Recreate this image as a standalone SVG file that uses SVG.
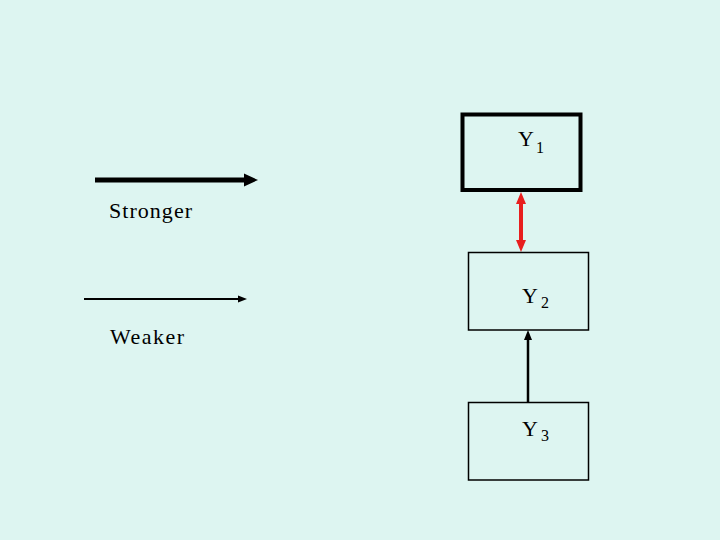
<svg xmlns="http://www.w3.org/2000/svg" width="720" height="540" viewBox="0 0 720 540">
<style>
text{font-family:"Liberation Serif","Times New Roman",serif;fill:#000}
.lbl{font-size:22px}
.sub{font-size:16px}
.box{fill:none;stroke:#000;stroke-width:1.5}
</style>
<rect width="720" height="540" fill="#DDF5F1"/>
<g id="legend">
<line x1="95" y1="180" x2="246" y2="180" stroke="#000" stroke-width="5"/>
<polygon points="258,180 244,173.5 244,186.5" fill="#000"/>
<text class="lbl" x="109" y="218" textLength="83" lengthAdjust="spacing">Stronger</text>
<line x1="84" y1="299" x2="240" y2="299" stroke="#000" stroke-width="2"/>
<polygon points="247,299 238,295.5 238,302.5" fill="#000"/>
<text class="lbl" x="110" y="344" textLength="74" lengthAdjust="spacing">Weaker</text>
</g>
<g id="connectors">
<line x1="521" y1="202" x2="521" y2="242" stroke="#E81E1E" stroke-width="4"/>
<polygon points="521,192 516,204 526,204" fill="#E81E1E"/>
<polygon points="521,252 516,240 526,240" fill="#E81E1E"/>
<line x1="528" y1="402" x2="528" y2="338" stroke="#000" stroke-width="2.5"/>
<polygon points="528,330 524,340 532,340" fill="#000"/>
</g>
<g id="Y1">
<rect x="462.5" y="114.5" width="118" height="75.5" fill="none" stroke="#000" stroke-width="4"/>
<text class="lbl" x="518" y="146">Y<tspan class="sub" dx="2" dy="7">1</tspan></text>
</g>
<g id="Y2">
<rect class="box" x="468.5" y="252.5" width="120" height="77.5"/>
<text class="lbl" x="522" y="303">Y<tspan class="sub" dx="3" dy="5">2</tspan></text>
</g>
<g id="Y3">
<rect class="box" x="468.5" y="402.5" width="120" height="77.5"/>
<text class="lbl" x="522" y="436">Y<tspan class="sub" dx="3" dy="5">3</tspan></text>
</g>
</svg>
